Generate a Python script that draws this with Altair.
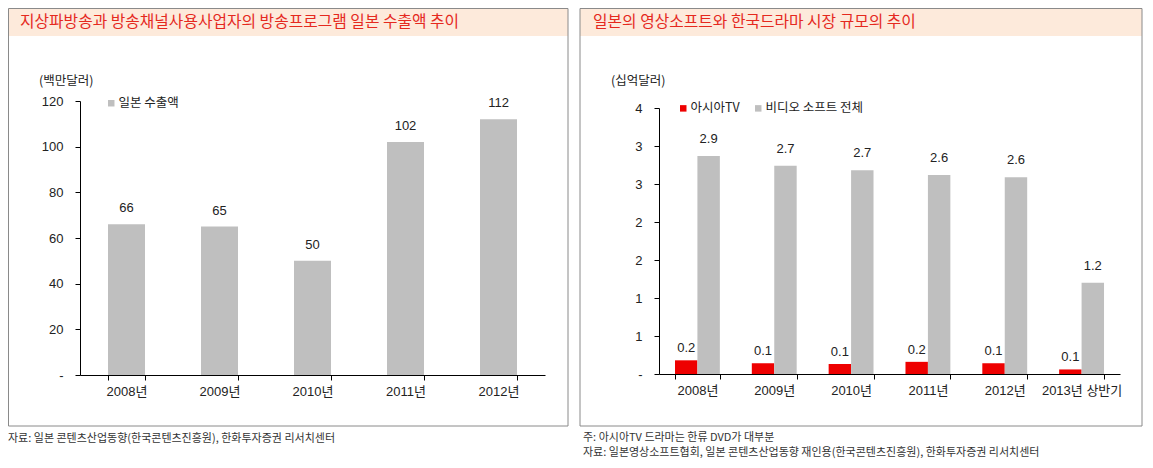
import altair as alt
import pandas as pd

FONT = "Liberation Sans, Noto Sans CJK KR, sans-serif"
KFONT = "Noto Sans CJK KR, sans-serif"

# ---------------- data ----------------
left_title = "지상파방송과 방송채널사용사업자의 방송프로그램 일본 수출액 추이"
right_title = "일본의 영상소프트와 한국드라마 시장 규모의 추이"
left_unit = "(백만달러)"
right_unit = "(십억달러)"
left_footer = "자료: 일본 콘텐츠산업동향(한국콘텐츠진흥원), 한화투자증권 리서치센터"
right_footer1 = "주: 아시아TV 드라마는 한류 DVD가 대부분"
right_footer2 = "자료: 일본영상소프트협회, 일본 콘텐츠산업동향 재인용(한국콘텐츠진흥원), 한화투자증권 리서치센터"

left_years = ["2008년", "2009년", "2010년", "2011년", "2012년"]
left_values = [66, 65, 50, 102, 112]
left_series = ["일본 수출액"]
left_ticks = [0, 20, 40, 60, 80, 100, 120]

right_years = ["2008년", "2009년", "2010년", "2011년", "2012년", "2013년 상반기"]
asia_tv = [0.18, 0.14, 0.13, 0.16, 0.14, 0.06]
video_total = [2.87, 2.74, 2.68, 2.62, 2.59, 1.20]
right_series = ["아시아TV", "비디오 소프트 전체"]
right_ticks = [0, 0.5, 1.0, 1.5, 2.0, 2.5, 3.0, 3.5]

GRAY = "#BFBFBF"
RED = "#EE0000"
TITLE_RED = "#E5291E"
BAND = "#FDEADB"
BORDER = "#8A8A8A"
TXT = "#222222"

left_df = pd.DataFrame({"year": left_years, "value": left_values, "series": left_series[0]})
right_df = pd.DataFrame({
    "year": right_years * 2,
    "series": [right_series[0]] * len(right_years) + [right_series[1]] * len(right_years),
    "value": asia_tv + video_total,
})
one = pd.DataFrame({"k": [1]})

W, H = 1137, 452


def box(x1, x2, y1, y2, **kw):
    return alt.Chart(one).mark_rect(**kw).encode(
        x=alt.value(x1), x2=alt.value(x2), y=alt.value(y1), y2=alt.value(y2))


def label(x, y, txt, size, color=TXT, font=KFONT, align="left"):
    return alt.Chart(one).mark_text(align=align, baseline="middle", font=font,
                                    fontSize=size, color=color).encode(
        x=alt.value(x), y=alt.value(y), text=alt.value(txt))


deco = [
    box(0.5, 560, 0.5, 28, fill=BAND),
    box(572, 1134, 0.5, 28, fill=BAND),
    box(0.5, 560, 0.5, 418, fillOpacity=0, stroke=BORDER, strokeWidth=1),
    box(572, 1134, 0.5, 418, fillOpacity=0, stroke=BORDER, strokeWidth=1),
    label(12, 13.5, left_title, 15.8, TITLE_RED),
    label(585, 13.5, right_title, 15.8, TITLE_RED),
    label(31, 73, left_unit, 12.5),
    label(603, 73, right_unit, 12.5),
    label(0, 431, left_footer, 11, "#333333"),
    label(575, 430, right_footer1, 11, "#333333"),
    label(575, 445, right_footer2, 11, "#333333"),
]

axis_common = dict(title=None, grid=False, tickSize=5, domainColor="black", tickColor="black",
                   domainWidth=1, tickWidth=1, labelColor=TXT, labelFont=FONT, labelFontSize=13)

# ---------------- left chart ----------------
lx = alt.X("year:N", sort=left_years,
           scale=alt.Scale(domain=left_years, range=[72, 537], paddingInner=0.6, paddingOuter=0.3),
           axis=alt.Axis(orient="bottom", offset=367 - H, tickBand="extent", labelAngle=0,
                         labelPadding=5, **axis_common))
ly = alt.Y("value:Q",
           scale=alt.Scale(domain=[0, 120], range=[367, 93], nice=False, zero=True),
           axis=alt.Axis(orient="left", offset=-72, values=left_ticks, labelPadding=12,
                         labelExpr="datum.value == 0 ? '-' : datum.label", **axis_common))

left_bars = alt.Chart(left_df).mark_bar(size=37).encode(
    x=lx, y=ly,
    color=alt.Color("series:N", scale=alt.Scale(domain=left_series, range=[GRAY]),
                    legend=alt.Legend(orient="none", legendX=97, legendY=89, title=None,
                                      symbolType="square", symbolSize=42, symbolStrokeWidth=0,
                                      labelFont=KFONT, labelFontSize=12.5, labelColor=TXT,
                                      labelOffset=1, padding=0)),
)
left_text = alt.Chart(left_df).mark_text(baseline="middle", dy=-16, font=FONT, fontSize=13,
                                         color=TXT).encode(
    x=alt.X("year:N", sort=left_years), y="value:Q", text=alt.Text("value:Q", format="d"))
left_chart = alt.layer(left_bars, left_text)

# ---------------- right chart ----------------
rx = alt.X("year:N", sort=right_years,
           scale=alt.Scale(domain=right_years, range=[651, 1112], paddingInner=0.416,
                           paddingOuter=0.208),
           axis=alt.Axis(orient="bottom", offset=366 - H, tickBand="extent", labelAngle=0,
                         labelPadding=5, **axis_common))
ry = alt.Y("value:Q",
           scale=alt.Scale(domain=[0, 3.5], range=[366, 100], nice=False, zero=True),
           axis=alt.Axis(orient="left", offset=-651, values=right_ticks, labelPadding=12,
                         labelExpr="datum.value == 0 ? '-' : toString(round(datum.value))",
                         **axis_common))
rxo = alt.XOffset("series:N", sort=right_series,
                  scale=alt.Scale(domain=right_series, paddingInner=0, paddingOuter=0))

right_bars = alt.Chart(right_df).mark_bar().encode(
    x=rx, y=ry, xOffset=rxo,
    color=alt.Color("series:N", scale=alt.Scale(domain=right_series, range=[RED, GRAY]),
                    legend=alt.Legend(orient="none", legendX=669, legendY=94, title=None,
                                      direction="horizontal", symbolType="square",
                                      symbolSize=42, symbolStrokeWidth=0, labelFont=KFONT,
                                      labelFontSize=12.5, labelColor=TXT, labelOffset=1,
                                      columnPadding=12, padding=0)),
)
right_text_red = alt.Chart(right_df).transform_filter(
    alt.datum.series == right_series[0]).mark_text(
    baseline="middle", dy=-12, font=FONT, fontSize=13, color=TXT).encode(
    x=alt.X("year:N", sort=right_years), xOffset=alt.XOffset("series:N", sort=right_series),
    y="value:Q", text=alt.Text("value:Q", format=".1f"))
right_text_gray = alt.Chart(right_df).transform_filter(
    alt.datum.series == right_series[1]).mark_text(
    baseline="middle", dy=-17, font=FONT, fontSize=13, color=TXT).encode(
    x=alt.X("year:N", sort=right_years), xOffset=alt.XOffset("series:N", sort=right_series),
    y="value:Q", text=alt.Text("value:Q", format=".1f"))
right_chart = alt.layer(right_bars, right_text_red, right_text_gray)

chart = alt.layer(*deco, left_chart, right_chart).resolve_scale(
    x="independent", y="independent", color="independent", xOffset="independent"
).properties(
    width=W, height=H, autosize=alt.AutoSizeParams(type="none"), padding=0,
    background="white",
).configure_view(strokeWidth=0)

chart.save("out.html", embed_options={"renderer": "svg", "actions": False})
